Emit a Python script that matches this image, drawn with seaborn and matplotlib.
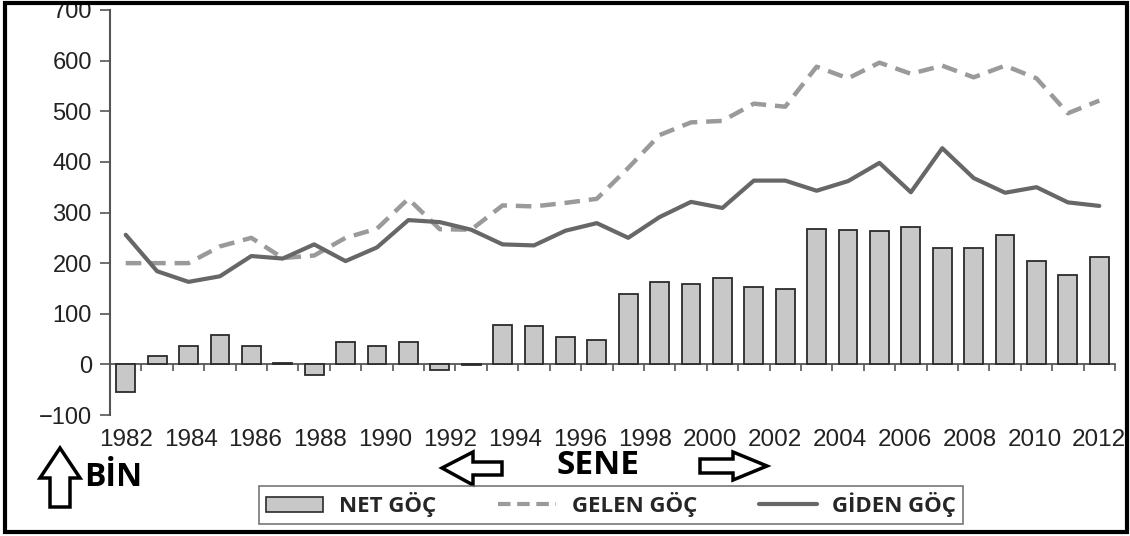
"""
Net / incoming / outgoing migration chart (thousands, by year).
"""

import numpy as np
import pandas as pd
import matplotlib
matplotlib.use("Agg")
import matplotlib.pyplot as plt
import seaborn as sns
from matplotlib.patches import Patch, Polygon, Rectangle
from matplotlib.lines import Line2D

# Data
years = list(range(1982, 2014))
net_goc = [-55, 17, 37, 58, 37, 2, -20, 44, 36, 44, -12, -1, 77, 76, 55, 48,
           140, 162, 158, 171, 153, 148, 268, 266, 264, 272, 229, 229, 256,
           205, 177, 212]
gelen_goc = [200, 200, 200, 233, 250, 210, 215, 250, 268, 327, 267, 266, 314,
             312, 319, 327, 388, 453, 478, 481, 515, 509, 588, 565, 596, 574,
             590, 567, 590, 565, 496, 521]
giden_goc = [256, 184, 163, 174, 214, 209, 237, 204, 231, 285, 281, 266, 237,
             235, 264, 279, 250, 291, 321, 309, 363, 363, 343, 362, 398, 340,
             427, 368, 339, 350, 320, 313]
tick_labels = [str(y) for y in range(1982, 2013, 2)]
y_ticks = [-100, 0, 100, 200, 300, 400, 500, 600, 700]

# Colors
BAR_FILL = '#c8c8c8'
BAR_EDGE = '#2b2b2b'
GELEN_COLOR = '#9a9a9a'
GIDEN_COLOR = '#676767'
AXIS_COLOR = '#555555'

sns.set_style("white")
plt.rcParams['font.family'] = ['Liberation Sans', 'DejaVu Sans']

df = pd.DataFrame({'year': years, 'net': net_goc,
                   'gelen': gelen_goc, 'giden': giden_goc})

W, H = 1130, 536
fig = plt.figure(figsize=(W / 100, H / 100), dpi=100)
ax = fig.add_axes([110 / W, 1 - 415 / H, 1005 / W, 405 / H])

sns.barplot(data=df, x='year', y='net', native_scale=True, width=0.6,
            color=BAR_FILL, saturation=1, edgecolor=BAR_EDGE, linewidth=1.3,
            errorbar=None, ax=ax)
sns.lineplot(data=df, x='year', y='gelen', color=GELEN_COLOR, linewidth=3.2,
             linestyle=(0, (3.5, 2.0)), ax=ax)
sns.lineplot(data=df, x='year', y='giden', color=GIDEN_COLOR, linewidth=3.0,
             ax=ax)

ax.set_xlim(years[0] - 0.5, years[-1] + 0.5)
ax.set_ylim(-100, 700)
ax.set_xlabel('')
ax.set_ylabel('')

# y axis
ax.set_yticks(y_ticks)
ax.tick_params(axis='y', direction='out', length=7, width=1.2,
               color=AXIS_COLOR, labelsize=17, pad=6, left=True,
               labelcolor='#222222')
for side in ['top', 'right', 'bottom']:
    ax.spines[side].set_visible(False)
ax.spines['left'].set_color(AXIS_COLOR)
ax.spines['left'].set_linewidth(1.5)

# year labels spread evenly under the bars
ax.set_xticks(np.linspace(years[0], years[-1], len(tick_labels)))
ax.set_xticklabels(tick_labels)
ax.tick_params(axis='x', length=0, labelsize=17.5, pad=10,
               labelcolor='#222222')

# zero line with small ticks between bars
zero_pos = (0 - (-100)) / 800
sec = ax.secondary_xaxis(zero_pos)
sec.set_xticks(np.array(years) + 0.5)
sec.set_xticklabels([])
sec.tick_params(axis='x', direction='out', length=5, width=1.2,
                color=AXIS_COLOR)
sec.spines['bottom'].set_color(AXIS_COLOR)
sec.spines['bottom'].set_linewidth(1.3)

# bottom annotations
label_font = dict(family=['Open Sans', 'DejaVu Sans'], weight='bold',
                  color='black')
fig.text(84 / W, 1 - 477 / H, 'BİN', fontsize=23, ha='left', va='center',
         **label_font)
fig.text(598 / W, 1 - 466 / H, 'SENE', fontsize=24, ha='center',
         va='center', **label_font)


def block_arrow(pts):
    # pts given in pixels from top-left
    xy = [(x, H - y) for x, y in pts]
    fig.patches.append(Polygon(xy, closed=True, fill=False, edgecolor='black',
                               linewidth=2.5, transform=None,
                               joinstyle='miter'))


block_arrow([(60, 448), (80, 478), (70, 478), (70, 507), (50, 507),
             (50, 478), (40, 478)])
block_arrow([(442, 468), (473, 452), (473, 462), (502, 462), (502, 475),
             (473, 475), (473, 485)])
block_arrow([(767, 466), (733, 452), (733, 459), (700, 459), (700, 473),
             (733, 473), (733, 480)])

# legend
handles = [Patch(facecolor=BAR_FILL, edgecolor=BAR_EDGE, linewidth=1.2),
           Line2D([], [], color=GELEN_COLOR, linewidth=3,
                  linestyle=(0, (3.0, 1.6))),
           Line2D([], [], color=GIDEN_COLOR, linewidth=3)]
leg = fig.legend(handles, ['NET GÖÇ', 'GELEN GÖÇ', 'GİDEN GÖÇ'], ncol=3,
                 loc='lower center', bbox_to_anchor=(611 / W, 1 / H),
                 frameon=True, fancybox=False, edgecolor='#555555',
                 handlelength=2.6, handletextpad=0.7, columnspacing=2.8,
                 borderpad=0.3, prop=dict(family=['Open Sans', 'DejaVu Sans'],
                                          weight='bold', size=16))
leg.get_frame().set_linewidth(1.2)

# outer frame
fig.patches.append(Rectangle((5, H - 532), 1122, 529, fill=False,
                             edgecolor='black', linewidth=3, transform=None))

fig.savefig('out.png', dpi=100)
